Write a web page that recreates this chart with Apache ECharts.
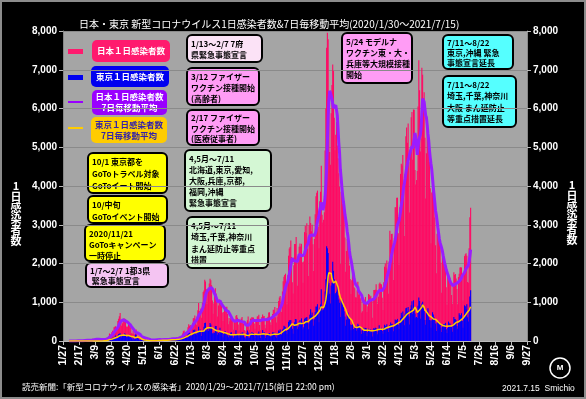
<!DOCTYPE html>
<html>
<head>
<meta charset="utf-8">
<script src="https://cdn.jsdelivr.net/npm/echarts@6/dist/echarts.min.js"></script>
<style>
html, body { margin: 0; padding: 0; background: #000; }
#chart { width: 586px; height: 399px; }
</style>
</head>
<body>
<div id="chart"></div>
<script>
'use strict';

// x axis runs 2020/1/27 .. 2021/9/27, one category per day, a label every 21 days
var axisStart = Date.UTC(2020, 0, 27);
var axisDays = 610;
var labelEvery = 21;
// first day with data: 2020/1/29 (index 2)
var dataOffset = 2;

// 日本 1日感染者数, 2020/1/29 .. 2021/7/15 (one row per month)
var japanDaily = [
  1,2,3,
  3,0,0,2,2,1,0, 1,0,1,2,3,5,4, 8,6,7,5,9,11,13, 12,13,15,15,17,21,24,12,
  13,14,19,33,35,59,49, 34,26,58,54,56,42,50, 44,23,15,44,39,34,53, 40,38,65,93,96,123,194, 173,86,225,
  266,234,353,367,383,252,351, 515,577,636,720,507,391,457, 549,584,576,568,372,362,376, 441,436,434,349,201,186,267, 192,160,
  263,300,201,87,134,134,99, 85,112,68,45,78,56,99, 57,45,30,17,31,40,23, 26,14,31,21,19,34,41, 52,27,40,
  34,39,40,23,45,55,46, 19,42,37,40,43,40,67, 73,37,43,72,68,55,71, 35,51,95,69,100,88,110, 84,120,
  129,195,250,274,206,174,208, 206,355,430,384,414,297,383, 466,587,595,660,509,420,630, 795,981,771,779,839,597,982, 1264,1301,1578,
  1536,1333,958,1237,1354,1483,1605, 1565,1437,1045,702,971,1176,1360, 1225,1012,630,918,1070,1059,1026, 994,738,519,746,838,880,842, 881,697,434,
  594,508,586,608,535,509,290, 514,509,650,674,602,425,269, 486,513,580,618,516,445,283, 263,185,473,538,634,463,291, 571,589,
  622,598,605,453,317,501,542, 630,640,680,410,278,563,620, 686,632,644,422,332,551,598, 623,735,741,487,412,602,697, 808,797,878,
  612,479,852,628,1033,1121,1163, 931,746,1276,1541,1660,1705,1737, 1435,946,1697,2201,2386,2425,2596, 2168,1518,1228,1954,2506,2501,2684, 2060,1429,
  2030,2433,2518,2438,2508,2030,1504, 2049,2810,2971,2788,3041,2388,1680, 2990,3211,3043,2832,3000,2500,1805, 2632,3271,3738,3823,3881,2952,2395, 3608,3852,4520,
  3257,3059,3128,3320,4915,6001,7570, 7957,7790,6094,4875,4548,5875,6605, 7133,6966,5759,4925,5320,5654,5045, 4717,4329,3979,1990,3854,3960,3535, 3538,3343,2673,
  1784,2323,2631,2576,2369,1946,1598, 1212,1569,1732,1865,1384,1360,1130, 1123,1308,1529,1200,1295,1079,1118, 736,765,1074,1012,1064,1135,993,
  751,894,1213,1191,1134,1168,1079, 599,1088,1314,1316,1320,1464,1313, 956,1145,1479,1508,1471,1460,1118, 798,1516,1918,1998,1891,2079,1784, 1220,2054,2843,
  2613,2761,2765,2472,1571,2655,3451, 3451,3697,3698,2781,1963,3454,4312, 4573,4532,4801,4085,2709,4315,5285, 5511,5117,5616,4614,3314,4853,5775, 5911,4678,
  5974,5968,4414,4036,4153,4388,6054, 7244,6470,4889,5223,7050,6871,6268, 6419,5246,3675,4842,5706,5295,5049, 4625,3941,2521,3833,4135,3708,3690, 3187,2468,1750,
  2769,2925,2701,2638,2471,2022,1245, 2232,2137,1987,1950,1938,1385,934, 1734,1717,1548,1635,1517,1190,955, 1419,1772,1705,1727,1611,1341,951, 1651,1733,
  1896,1901,1896,1706,1042,1749,2191, 2236,2266,2197,1523,1502,2393,3194, 3436
];

// 東京 1日感染者数, same days
var tokyoDaily = [
  0,0,1,
  0,0,0,0,0,0,0, 0,0,0,0,0,2,1, 5,3,1,3,1,2,2, 1,1,1,3,2,1,3,1,
  0,1,4,2,4,1,6, 2,1,2,3,3,2,1, 6,2,3,9,6,9,11, 6,16,17,41,47,40,63, 68,13,78,
  66,97,89,118,143,83,80, 144,178,189,197,166,91,161, 127,149,201,181,107,102,123, 132,134,161,103,72,39,112, 47,46,
  165,160,91,87,58,38,23, 39,36,22,15,28,10,30, 9,14,5,10,5,3,11, 3,2,14,8,10,11,15, 22,14,5,
  13,34,12,28,20,26,14, 13,12,18,22,24,24,47, 48,27,16,41,35,39,35, 29,31,55,48,54,57,60, 58,54,
  67,107,124,131,111,102,106, 75,224,243,206,206,119,143, 165,286,293,290,188,168,237, 238,366,260,295,239,131,266, 250,367,463,
  472,292,258,309,263,360,462, 429,331,197,188,222,206,389, 385,260,161,207,186,339,258, 256,212,95,182,236,250,226, 148,148,100,
  170,141,211,226,181,116,77, 170,149,276,187,181,146,80, 163,191,172,220,218,168,88, 98,59,195,270,218,78,88, 194,196,
  235,196,207,143,78,178,177, 185,187,248,146,77,166,177, 284,185,235,132,78,139,185, 185,186,203,124,102,158,221, 221,215,215,
  116,87,209,122,269,242,294, 189,157,293,317,393,374,352, 255,180,298,493,534,522,539, 391,314,186,401,481,570,561, 418,311,
  372,500,533,449,584,480,299, 352,572,602,595,621,480,305, 460,678,822,664,736,556,392, 563,748,888,884,949,708,481, 856,944,1337,
  783,814,816,884,1278,1591,2447, 2392,2268,1494,1219,970,1433,1502, 2044,1809,1592,1204,1240,1274,1471, 1175,1070,986,618,1026,973,1064, 868,769,633,
  393,556,676,734,577,639,429, 276,412,434,307,307,369,371, 266,378,445,407,353,327,272, 178,275,213,340,270,337,329,
  121,232,316,279,301,293,237, 116,290,335,304,340,330,239, 175,300,409,323,303,342,256, 187,337,420,394,376,430,313, 234,364,414,
  475,440,446,355,249,399,555, 545,537,570,421,306,510,591, 729,667,759,543,405,711,843, 861,759,876,635,425,828,925, 1027,698,
  1050,870,708,609,621,591,907, 1121,1032,573,925,969,1010,854, 772,542,419,732,766,843,612, 541,535,340,538,743,684,614, 539,449,260,
  471,487,508,472,436,351,235, 369,440,439,435,467,304,209, 337,501,452,453,388,376,236, 435,619,570,562,534,386,317, 476,714,
  673,660,716,518,342,593,920, 896,822,950,614,502,830,1149, 1308
];

var yMax = 8000;
var yStep = 1000;

var categories = [];
for (var i = 0; i < axisDays; i++) {
  var d = new Date(axisStart + i * 86400000);
  categories.push((d.getUTCMonth() + 1) + '/' + d.getUTCDate());
}

function pad(arr) {
  var out = [];
  for (var k = 0; k < dataOffset; k++) out.push(null);
  return out.concat(arr);
}

// 7日毎移動平均
function movingAvg(arr) {
  var out = [];
  for (var k = 0; k < arr.length; k++) {
    if (k < 6) { out.push(null); continue; }
    var s = 0;
    for (var j = k - 6; j <= k; j++) s += arr[j];
    out.push(Math.round(s / 7));
  }
  return out;
}

var jpFont = '"Noto Sans CJK JP", sans-serif';

function noteBox(x, y, w, h, fill, text, lh) {
  return {
    type: 'group',
    children: [
      { type: 'rect', shape: { x: x, y: y, width: w, height: h, r: 5 },
        style: { fill: fill, stroke: '#000', lineWidth: 2 } },
      { type: 'text', x: x + 4, y: y + 3,
        style: { text: text, fill: '#000', fontSize: 8, fontWeight: 'bold',
                 fontFamily: jpFont, lineHeight: lh || 11.5 } }
    ]
  };
}

function legendBox(x, y, w, h, fill, text, color, mark) {
  return {
    type: 'group',
    children: [
      { type: 'rect', shape: { x: mark.x, y: mark.y, width: 15, height: mark.h },
        style: { fill: mark.color } },
      { type: 'rect', shape: { x: x, y: y, width: w, height: h, r: 5 },
        style: { fill: fill } },
      { type: 'text', x: x + w / 2, y: y + h / 2,
        style: { text: text, fill: color, fontSize: 8.5, fontWeight: 'bold',
                 fontFamily: jpFont, align: 'center', verticalAlign: 'middle', lineHeight: 11 } }
    ]
  };
}

var chart = echarts.init(document.getElementById('chart'));

var option = {
  backgroundColor: '#000',
  animation: false,
  title: {
    text: '日本・東京 新型コロナウイルス1日感染者数&7日毎移動平均(2020/1/30〜2021/7/15)',
    left: 74, top: 14,
    textStyle: { color: '#fff', fontSize: 10, fontWeight: 'normal', fontFamily: jpFont }
  },
  grid: { left: 63, right: 59, top: 31, bottom: 58, show: true, backgroundColor: '#a5a5a5', borderWidth: 0 },
  xAxis: {
    type: 'category',
    data: categories,
    boundaryGap: false,
    axisLine: { lineStyle: { color: '#bbb' } },
    axisTick: { interval: labelEvery - 1, length: 4, lineStyle: { color: '#bbb' } },
    axisLabel: {
      interval: labelEvery - 1, rotate: 90, margin: 4,
      color: '#fff', fontSize: 10.5, fontWeight: 'bold', fontFamily: 'Liberation Sans'
    },
    splitLine: { show: false }
  },
  yAxis: [{
    type: 'value', min: 0, max: yMax, interval: yStep,
    axisLine: { show: true, lineStyle: { color: '#888' } },
    axisTick: { show: true, length: 4, lineStyle: { color: '#bbb' } },
    axisLabel: {
      margin: 6, color: '#fff', fontSize: 10, fontWeight: 'bold', fontFamily: 'Liberation Sans',
      formatter: function (v) { return v.toLocaleString('en-US'); }
    },
    splitLine: { lineStyle: { color: '#8a8a8a', width: 1 } }
  }, {
    type: 'value', min: 0, max: yMax, interval: yStep, position: 'right',
    axisLine: { show: true, lineStyle: { color: '#888' } },
    axisTick: { show: true, length: 4, lineStyle: { color: '#bbb' } },
    axisLabel: {
      margin: 6, color: '#fff', fontSize: 10, fontWeight: 'bold', fontFamily: 'Liberation Sans',
      formatter: function (v) { return v.toLocaleString('en-US'); }
    },
    splitLine: { show: false }
  }],
  series: [{
    name: '日本1日感染者数', type: 'bar', data: pad(japanDaily),
    itemStyle: { color: '#ff0a64' }, barWidth: 1.1, barGap: '-100%', z: 2
  }, {
    name: '東京1日感染者数', type: 'bar', data: pad(tokyoDaily),
    itemStyle: { color: '#0000ff' }, barWidth: 1.1, barGap: '-100%', z: 3
  }, {
    name: '日本7日毎移動平均', type: 'line', data: pad(movingAvg(japanDaily)),
    showSymbol: false, lineStyle: { color: '#9a1cff', width: 3 }, z: 5
  }, {
    name: '東京7日毎移動平均', type: 'line', data: pad(movingAvg(tokyoDaily)),
    showSymbol: false, lineStyle: { color: '#ffcc00', width: 1.5 }, z: 6
  }],
  graphic: [
    { type: 'rect', shape: { x: 1, y: 1, width: 584, height: 397 },
      style: { fill: null, stroke: '#8c8c8c', lineWidth: 2 }, z: 100 },
    // axis names
    { type: 'text', x: 16, y: 213,
      style: { text: '1\n日\n感\n染\n者\n数', fill: '#fff', fontSize: 11, fontWeight: 'bold',
               fontFamily: jpFont, align: 'center', verticalAlign: 'middle', lineHeight: 11 } },
    { type: 'text', x: 572, y: 212,
      style: { text: '1\n日\n感\n染\n者\n数', fill: '#fff', fontSize: 11, fontWeight: 'bold',
               fontFamily: jpFont, align: 'center', verticalAlign: 'middle', lineHeight: 11 } },
    // legend
    legendBox(92, 40, 78, 22, '#ff1a6e', '日本１日感染者数', '#fff', { x: 68, y: 49, h: 5, color: '#ff1a6e' }),
    legendBox(91, 66, 78, 21, '#0000f0', '東京１日感染者数', '#fff', { x: 68, y: 75, h: 5, color: '#0000f0' }),
    legendBox(92, 90, 75, 25, '#9900ff', '日本１日感染者数\n7日毎移動平均', '#fff', { x: 68, y: 101, h: 2, color: '#9900ff' }),
    legendBox(91, 117, 76, 26, '#ffcc00', '東京１日感染者数\n7日毎移動平均', '#3322aa', { x: 68, y: 127, h: 2, color: '#ffcc00' }),
    // notes
    noteBox(88, 153, 79, 40, '#ffff00', '10/1 東京都を\nGoToトラベル対象\nGoToイート開始', 12),
    noteBox(88, 196, 79, 27, '#ffff00', '10/中旬\nGoToイベント開始', 12),
    noteBox(85, 225, 80, 36, '#ffff00', '2020/11/21\nGoToキャンペーン\n一時停止', 11),
    noteBox(86, 263, 82, 24, '#f4c4f2', '1/7〜2/7 1都3県\n 緊急事態宣言', 10),
    noteBox(187, 35, 75, 27, '#fbe2f6', '1/13〜2/7 7府\n県緊急事態宣言', 11),
    noteBox(187, 68, 72, 37, '#ff9cf5', '3/12 ファイザー\nワクチン接種開始\n(高齢者)', 11),
    noteBox(187, 110, 72, 35, '#ff9cf5', '2/17 ファイザー\nワクチン接種開始\n(医療従事者)', 10.5),
    noteBox(185, 150, 86, 61, '#d4f7d4', '4,5月〜7/11\n北海道,東京,愛知,\n大阪,兵庫,京都,\n福岡,沖縄\n緊急事態宣言', 11),
    noteBox(187, 217, 81, 51, '#d4f7d4', '4,5月〜7/11\n埼玉,千葉,神奈川\nまん延防止等重点\n措置', 11.5),
    noteBox(342, 33, 70, 50, '#ff9cf5', '5/24 モデルナ\nワクチン東・大・\n兵庫等大規模接種\n開始', 11),
    noteBox(443, 35, 70, 34, '#55ffff', '7/11〜8/22\n東京,沖縄 緊急\n事態宣言延長', 10),
    noteBox(443, 76, 73, 51, '#55ffff', '7/11〜8/22\n埼玉,千葉,神奈川\n大阪 まん延防止\n等重点措置延長', 11.5),
    // footer
    { type: 'text', x: 22, y: 383,
      style: { text: '読売新聞:「新型コロナウイルスの感染者」2020/1/29〜2021/7/15(前日 22:00 pm)',
               fill: '#fff', fontSize: 8.5, fontFamily: jpFont } },
    { type: 'text', x: 502, y: 384,
      style: { text: '2021.7.15  Smichio', fill: '#fff', fontSize: 8.5, fontFamily: 'Liberation Sans' } },
    { type: 'circle', shape: { cx: 560, cy: 368, r: 10 },
      style: { fill: '#000', stroke: '#fff', lineWidth: 1.5 } },
    { type: 'text', x: 560, y: 368,
      style: { text: 'M', fill: '#fff', fontSize: 8, fontWeight: 'bold', align: 'center', verticalAlign: 'middle' } }
  ]
};

chart.setOption(option);
</script>
</body>
</html>
